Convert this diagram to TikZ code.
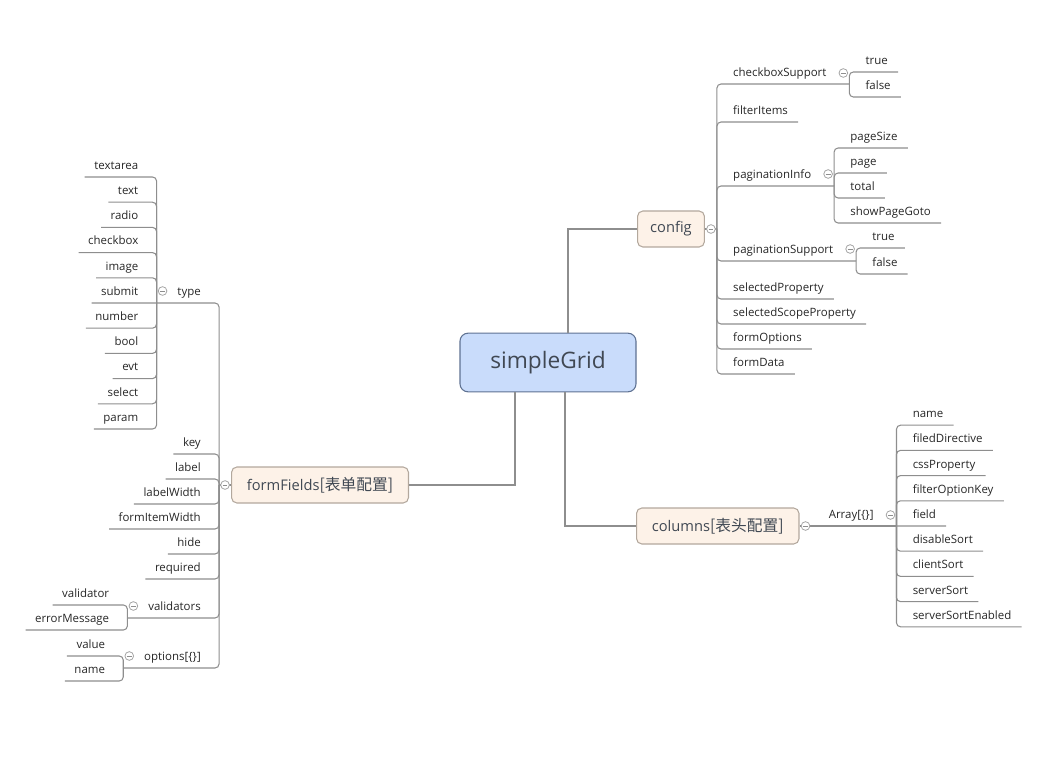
\documentclass[tikz,border=0pt]{standalone}
\usepackage{fontspec}
\setmainfont{Open Sans}
\newfontfamily\cjk{Noto Sans CJK SC}
\usetikzlibrary{calc,positioning}
\definecolor{rootfill}{HTML}{C9DCFB}
\definecolor{rootline}{HTML}{5F7292}
\definecolor{topicfill}{HTML}{FDF2E8}
\definecolor{topicline}{HTML}{B3A89D}
\definecolor{branchgray}{HTML}{8E8E8E}
\definecolor{inkdark}{HTML}{404853}
\newcommand\zh[1]{{\cjk\fontsize{11.8}{13}\selectfont[#1]}}
\tikzset{
  rootbox/.style={draw=rootline, fill=rootfill, line width=0.8pt, rounded corners=6pt,
    minimum width=132pt, minimum height=44pt, font=\fontsize{17}{20}\selectfont, text=inkdark},
  topicbox/.style={draw=topicline, fill=topicfill, line width=0.8pt, rounded corners=4pt,
    minimum height=27pt, inner xsep=9.5pt, font=\fontsize{11}{13}\selectfont, text=inkdark},
  topicwide/.style={topicbox, inner xsep=11.5pt},
  leaf/.style={inner xsep=0pt, inner ysep=5.5pt, text depth=0pt,
    font=\fontsize{8.6}{10}\selectfont, text=black!85},
  leafR/.style={leaf, anchor=south west, execute at begin node=\hspace*{12pt}, execute at end node=\hspace*{7.5pt}},
  subR/.style={leaf, anchor=south west, execute at begin node=\hspace*{12pt}, execute at end node=\hspace*{17pt}},
  leafL/.style={leaf, anchor=south east, execute at begin node=\hspace*{7pt}, execute at end node=\hspace*{13.5pt}},
  subL/.style={leaf, anchor=south east, execute at begin node=\hspace*{15.5pt}, execute at end node=\hspace*{13.5pt}},
  branch/.style={draw=branchgray, line width=0.8pt, rounded corners=3pt},
  foldmark/.style={circle, draw=branchgray!80, fill=white, line width=0.6pt, inner sep=0pt, minimum size=6.5pt,
    path picture={\draw[branchgray, line width=0.6pt] ([xshift=-1.8pt]path picture bounding box.center) -- ([xshift=1.8pt]path picture bounding box.center);}}
}
\begin{document}
\begin{tikzpicture}[x=0.75pt,y=-0.75pt]
  \useasboundingbox (0,0) rectangle (1050,759);
  \node[rootbox] (grid) at (548,362.5) {simpleGrid};
  \node[topicbox, anchor=west] (config) at (637,229) {config};
  \node[topicwide, anchor=west] (columns) at (636,526) {columns\zh{表头配置}};
  \node[topicwide, anchor=east] (fields) at (409,485) {formFields\zh{表单配置}};
  \draw[branch, rounded corners=0pt] ([xshift=15pt]grid.north) |- (config.west);
  \draw[branch, rounded corners=0pt] ([xshift=12.75pt]grid.south) |- (columns.west);
  \draw[branch, rounded corners=0pt] ([xshift=-24.75pt]grid.south) |- (fields.east);

  % config
  \coordinate (cfgj) at ($(config.east)+(12,0)$);
  \node[subR]  (cbs)      at (cfgj |- 0,84)  {checkboxSupport};
  \node[leafR] (filter)   at (cfgj |- 0,122) {filterItems};
  \node[subR]  (pinfo)    at (cfgj |- 0,186) {paginationInfo};
  \node[subR]  (psupp)    at (cfgj |- 0,261) {paginationSupport};
  \node[leafR] (selprop)  at (cfgj |- 0,299) {selectedProperty};
  \node[leafR] (selscope) at (cfgj |- 0,324) {selectedScopeProperty};
  \node[leafR] (fopts)    at (cfgj |- 0,349) {formOptions};
  \node[leafR] (fdata)    at (cfgj |- 0,374) {formData};
  \draw[branch] (config.east) -- (cfgj);
  \foreach \n in {cbs,filter,pinfo,psupp,selprop,selscope,fopts,fdata}
    \draw[branch] (cfgj) |- (\n.south east);

  \node[leafR] (cbtrue)  at (cbs.south east |- 0,72) {true};
  \node[leafR] (cbfalse) at (cbs.south east |- 0,97) {false};
  \foreach \n in {cbtrue,cbfalse} \draw[branch] (cbs.south east) |- (\n.south east);

  \node[leafR] (pgsize) at (pinfo.south east |- 0,148) {pageSize};
  \node[leafR] (pgpage) at (pinfo.south east |- 0,173) {page};
  \node[leafR] (pgtot)  at (pinfo.south east |- 0,198) {total};
  \node[leafR] (pggoto) at (pinfo.south east |- 0,223) {showPageGoto};
  \foreach \n in {pgsize,pgpage,pgtot,pggoto} \draw[branch] (pinfo.south east) |- (\n.south east);

  \node[leafR] (pstrue)  at (psupp.south east |- 0,248) {true};
  \node[leafR] (psfalse) at (psupp.south east |- 0,274) {false};
  \foreach \n in {pstrue,psfalse} \draw[branch] (psupp.south east) |- (\n.south east);

  % columns
  \node[subR] (array) at ($(columns.east)+(13,0)$) {Array[\{\}]};
  \draw[branch] (columns.east) -- (array.south east);
  \foreach \t [count=\i from 0] in {name,filedDirective,cssProperty,filterOptionKey,field,disableSort,clientSort,serverSort,serverSortEnabled}
    \node[leafR] (col\i) at ($(array.south east |- 0,425.2)+(0,25.2*\i)$) {\t};
  \foreach \i in {0,...,3,5,6,7,8} \draw[branch] (array.south east) |- (col\i.south east);
  \draw[branch] (array.south east) -- (col4.south east);

  % formFields
  \coordinate (ffj) at ($(fields.west)+(-12,0)$);
  \node[subL]  (type)    at (ffj |- 0,303) {type};
  \node[leafL] (fdkey)   at (ffj |- 0,454) {key};
  \node[leafL] (fdlabel) at (ffj |- 0,479) {label};
  \node[leafL] (fdlw)    at (ffj |- 0,504) {labelWidth};
  \node[leafL] (fdiw)    at (ffj |- 0,529) {formItemWidth};
  \node[leafL] (fdhide)  at (ffj |- 0,554) {hide};
  \node[leafL] (fdreq)   at (ffj |- 0,579) {required};
  \node[subL]  (vals)    at (ffj |- 0,618) {validators};
  \node[subL]  (opts)    at (ffj |- 0,668) {options[\{\}]};
  \draw[branch] (fields.west) -- (ffj);
  \foreach \n in {type,fdkey,fdlabel,fdlw,fdiw,fdhide,fdreq,vals,opts}
    \draw[branch] (ffj) |- (\n.south west);

  \foreach \t [count=\i from 0] in {textarea,text,radio,checkbox,image,submit,number,bool,evt,select,param}
    \node[leafL] (ty\i) at ($(type.south west |- 0,177)+(0,25.2*\i)$) {\t};
  \foreach \i in {0,...,4,6,7,8,9,10} \draw[branch] (type.south west) |- (ty\i.south west);
  \draw[branch] (type.south west) -- (ty5.south west);

  \node[leafL] (valone) at (vals.south west |- 0,605) {validator};
  \node[leafL] (valerr) at (vals.south west |- 0,630) {errorMessage};
  \foreach \n in {valone,valerr} \draw[branch] (vals.south west) |- (\n.south west);

  \node[leafL] (optval)  at (opts.south west |- 0,656) {value};
  \node[leafL] (optname) at (opts.south west |- 0,681) {name};
  \foreach \n in {optval,optname} \draw[branch] (opts.south west) |- (\n.south west);

  % fold markers
  \node[foldmark] (cfgfold)  at ($(config.east)+(6,0)$) {};
  \node[foldmark] (colfold)  at ($(columns.east)+(6,0)$) {};
  \node[foldmark] (fldfold)  at ($(fields.west)+(-6,0)$) {};
  \node[foldmark] (cbsfold)  at ($(cbs.south east)+(-6,-11)$) {};
  \node[foldmark] (pinfold)  at ($(pinfo.south east)+(-6,-12)$) {};
  \node[foldmark] (psufold)  at ($(psupp.south east)+(-6,-12)$) {};
  \node[foldmark] (arrfold)  at ($(array.south east)+(-6,-11)$) {};
  \node[foldmark] (typefold) at ($(type.south west)+(6,-12)$) {};
  \node[foldmark] (valsfold) at ($(vals.south west)+(6,-12)$) {};
  \node[foldmark] (optsfold) at ($(opts.south west)+(6,-12)$) {};
\end{tikzpicture}
\end{document}
